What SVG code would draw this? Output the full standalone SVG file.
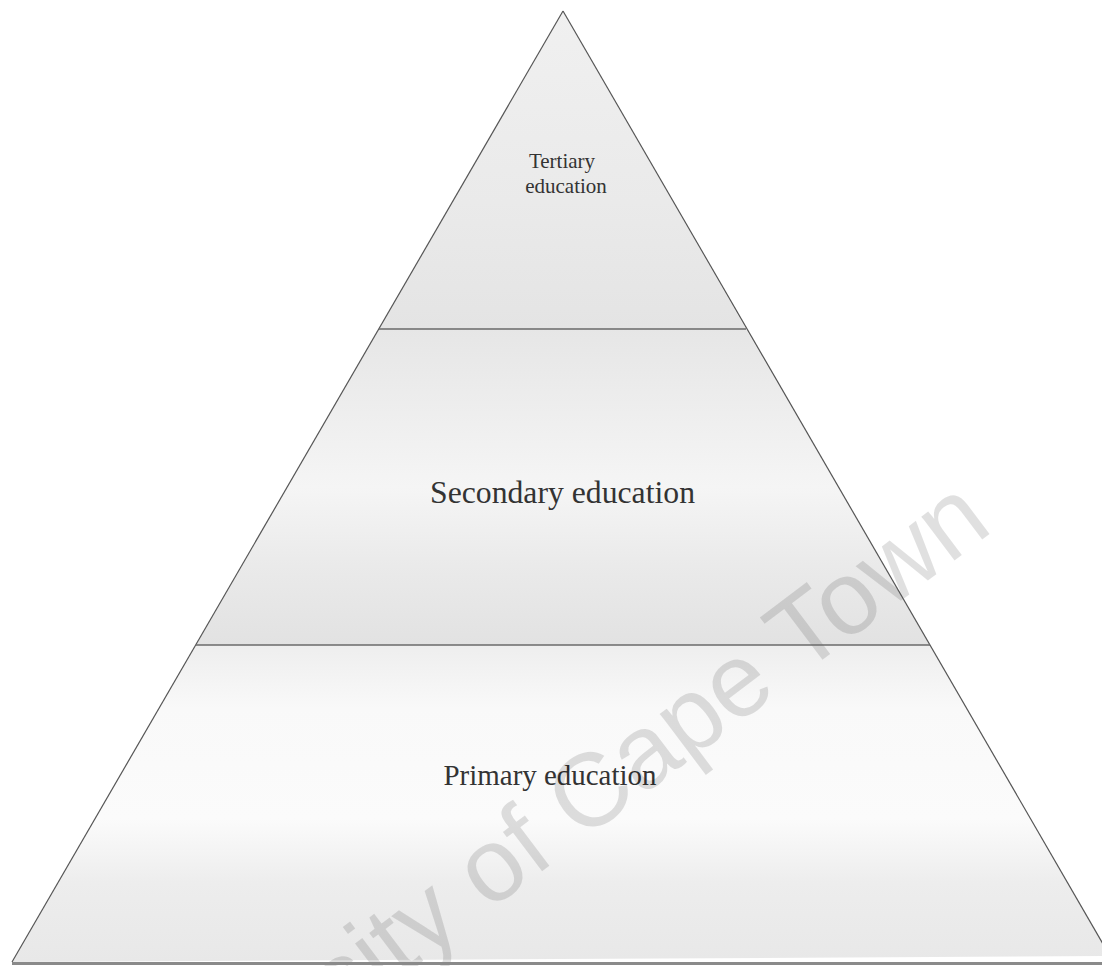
<svg xmlns="http://www.w3.org/2000/svg" width="1102" height="966" viewBox="0 0 1102 966">
<style>
.side{stroke:#555;stroke-width:1.2;fill:none}
.div{stroke:#6a6a6a;stroke-width:1.6}
.lbl{font-family:"Liberation Serif","Times New Roman",serif;fill:#333;text-anchor:middle}
.wm{font-family:"Liberation Sans",Arial,sans-serif;fill:#000;fill-opacity:0.12;text-anchor:end}
</style>
<defs>
<linearGradient id="gT" x1="0" y1="0" x2="0" y2="1">
<stop offset="0" stop-color="#f0f0f0"/><stop offset="0.6" stop-color="#eaeaea"/><stop offset="1" stop-color="#e4e4e4"/>
</linearGradient>
<linearGradient id="gS" x1="0" y1="0" x2="0" y2="1">
<stop offset="0" stop-color="#e6e6e6"/><stop offset="0.3" stop-color="#efefef"/><stop offset="0.5" stop-color="#f5f5f5"/><stop offset="0.75" stop-color="#eaeaea"/><stop offset="1" stop-color="#e2e2e2"/>
</linearGradient>
<linearGradient id="gP" x1="0" y1="0" x2="0" y2="1">
<stop offset="0" stop-color="#eeeeee"/><stop offset="0.2" stop-color="#f9f9f9"/><stop offset="0.55" stop-color="#fbfbfb"/><stop offset="0.75" stop-color="#ededed"/><stop offset="1" stop-color="#e8e8e8"/>
</linearGradient>
</defs>
<rect width="1102" height="966" fill="#ffffff"/>
<g id="tertiary">
<polygon points="563,11 379,329 746,329" fill="url(#gT)"/>
<text class="lbl" x="562" y="168" font-size="21">Tertiary</text>
<text class="lbl" x="566" y="193" font-size="21">education</text>
</g>
<g id="secondary">
<polygon points="379,329 746,329 930,645 196,645" fill="url(#gS)"/>
<text class="lbl" x="562.5" y="503" font-size="31" textLength="265" lengthAdjust="spacingAndGlyphs">Secondary education</text>
</g>
<g id="primary">
<polygon points="196,645 930,645 1110,956 12,962" fill="url(#gP)"/>
<text class="lbl" x="550" y="785" font-size="29" textLength="213" lengthAdjust="spacingAndGlyphs">Primary education</text>
</g>
<text class="wm" font-size="104" transform="translate(995,530) rotate(-37)">University of Cape Town</text>
<g id="connectors">
<line class="side" x1="563" y1="11" x2="12" y2="962"/>
<line class="side" x1="563" y1="11" x2="1110" y2="956"/>
<line class="div" x1="379" y1="329" x2="746" y2="329"/>
<line class="div" x1="196" y1="645" x2="930" y2="645"/>
<line x1="12" y1="963.5" x2="1102" y2="963.5" stroke="#8a8a8a" stroke-width="3"/>
</g>
</svg>
